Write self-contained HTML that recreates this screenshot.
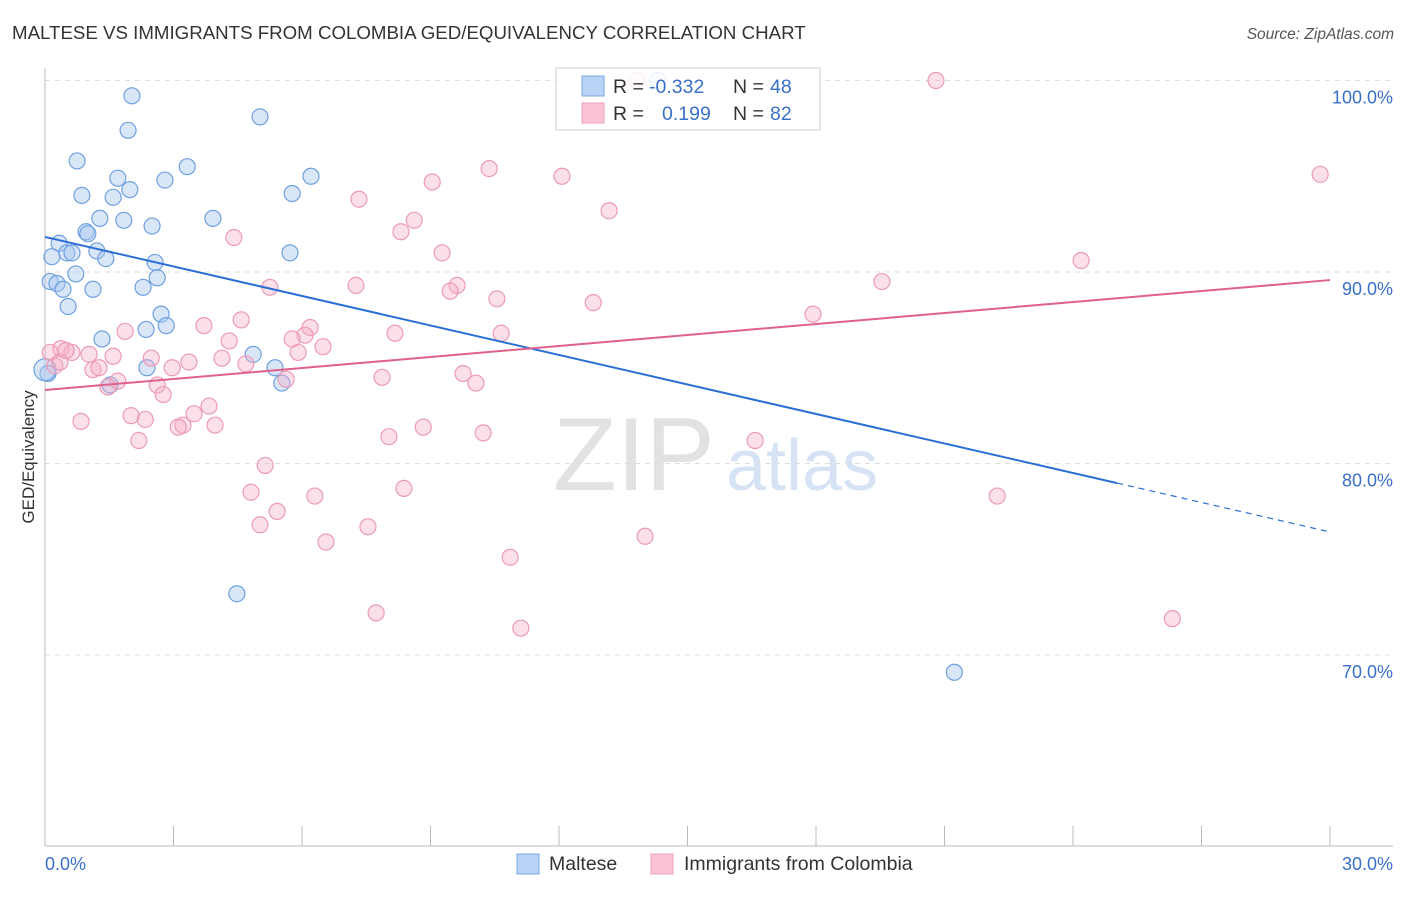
<!DOCTYPE html>
<html><head><meta charset="utf-8"><style>
body{margin:0;background:#fff;font-family:"Liberation Sans",sans-serif;}
svg text{font-family:"Liberation Sans",sans-serif;}
</style></head><body>
<svg id="chart" width="1406" height="892" viewBox="0 0 1406 892" xmlns="http://www.w3.org/2000/svg">
<text x="12" y="39" font-size="18.7" fill="#333">MALTESE VS IMMIGRANTS FROM COLOMBIA GED/EQUIVALENCY CORRELATION CHART</text>
<text x="1394" y="39" font-size="15.5" fill="#555" text-anchor="end" font-style="italic">Source: ZipAtlas.com</text>
<g>
<text x="634" y="490" font-size="104" fill="#e2e2e2" font-family="Liberation Serif" text-anchor="middle">ZIP</text>
<text x="802" y="490" font-size="72" fill="#d6e3f5" text-anchor="middle">atlas</text>
</g>
<g id="grid"></g>
<g id="axes"></g>
<g id="points"></g>
<g id="lines"></g>
<text transform="translate(34,457) rotate(-90)" font-size="17" fill="#333" text-anchor="middle">GED/Equivalency</text>
<g>
<rect x="556" y="68" width="264" height="62" fill="rgba(255,255,255,0.85)" stroke="#ccc"/>
<rect x="582" y="76" width="22" height="20" fill="#b8d3f5" stroke="#7aa8e6"/>
<rect x="582" y="103" width="22" height="20" fill="#fbc4d6" stroke="#eea0bb"/>
<text x="613" y="93" font-size="19.5" fill="#333">R =</text>
<text x="649" y="93" font-size="19.5" fill="#3a70c8">-0.332</text>
<text x="733" y="93" font-size="19.5" fill="#333">N =</text>
<text x="770" y="93" font-size="19.5" fill="#3a70c8">48</text>
<text x="613" y="120" font-size="19.5" fill="#333">R =</text>
<text x="662" y="120" font-size="19.5" fill="#3a70c8">0.199</text>
<text x="733" y="120" font-size="19.5" fill="#333">N =</text>
<text x="770" y="120" font-size="19.5" fill="#3a70c8">82</text>
</g>
<g>
<rect x="517" y="854" width="22" height="20" fill="#b8d3f5" stroke="#7aa8e6"/>
<text x="549" y="870" font-size="19.5" fill="#333">Maltese</text>
<rect x="651" y="854" width="22" height="20" fill="#fbc4d6" stroke="#eea0bb"/>
<text x="684" y="870" font-size="19.5" fill="#333">Immigrants from Colombia</text>
</g>
</svg>
<script>
const xTicks=[0,3,6,9,12,15,18,21,24,27,30];
const yTicks=[70,80,90,100];
const yTickLabels=["70.0%","80.0%","90.0%","100.0%"];
const xEndLabels=["0.0%","30.0%"];
const blueX=[2.03,5.02,1.94,0.75,3.32,1.70,2.80,1.98,0.86,1.59,5.77,6.21,1.28,1.84,3.92,2.50,0.96,1.00,0.33,0.51,0.63,1.21,5.72,0.16,1.42,2.57,0.72,2.62,0.12,0.28,0.42,1.12,2.29,0.54,2.71,2.83,2.36,1.33,4.86,2.38,5.37,1.52,5.53,0.07,4.48,21.23,14.31,0.0];
const blueY=[99.2,98.1,97.4,95.8,95.5,94.9,94.8,94.3,94.0,93.9,94.1,95.0,92.8,92.7,92.8,92.4,92.1,92.0,91.5,91.0,91.0,91.1,91.0,90.8,90.7,90.5,89.9,89.7,89.5,89.4,89.1,89.1,89.2,88.2,87.8,87.2,87.0,86.5,85.7,85.0,85.0,84.1,84.2,84.7,73.2,69.1,100.0,84.9];
const pinkX=[20.80,13.82,29.77,10.37,12.07,9.04,7.33,13.17,8.62,8.31,4.41,9.27,24.19,19.54,7.26,5.25,9.62,9.46,10.55,12.80,17.93,4.58,3.71,6.19,1.87,6.07,10.65,8.17,5.77,4.30,6.49,5.91,0.37,0.12,0.63,1.03,1.59,2.48,4.13,3.36,4.69,2.97,1.12,9.76,7.87,5.63,1.70,10.06,1.47,2.62,2.76,3.83,3.48,2.01,2.34,0.84,3.97,3.22,3.11,10.23,8.83,8.03,16.58,2.19,5.14,4.81,8.38,6.30,22.23,5.42,5.02,7.54,6.56,14.01,10.86,7.73,26.32,11.11,0.23,1.26,0.35,0.49];
const pinkY=[100.0,100.0,95.1,95.4,95.0,94.7,93.8,93.2,92.7,92.1,91.8,91.0,90.6,89.5,89.3,89.2,89.3,89.0,88.6,88.4,87.8,87.5,87.2,87.1,86.9,86.7,86.8,86.8,86.5,86.4,86.1,85.8,86.0,85.8,85.8,85.7,85.6,85.5,85.5,85.3,85.2,85.0,84.9,84.7,84.5,84.4,84.3,84.2,84.0,84.1,83.6,83.0,82.6,82.5,82.3,82.2,82.0,82.0,81.9,81.6,81.9,81.4,81.2,81.2,79.9,78.5,78.7,78.3,78.3,77.5,76.8,76.7,75.9,76.2,75.1,72.2,71.9,71.4,85.1,85.0,85.3,85.9];
const blueTrend=[91.83,-0.5135];
const blueSolidEnd=25.03;
const pinkTrend=[83.84,0.1913];

const NS="http://www.w3.org/2000/svg";
const X=v=>45+v/30*1285;
const Y=v=>846.5-(v-60)/40*766;
function mk(tag,attrs,parent){const e=document.createElementNS(NS,tag);for(const k in attrs)e.setAttribute(k,attrs[k]);document.getElementById(parent).appendChild(e);return e;}
yTicks.forEach((t,i)=>{
 const g=mk('line',{x1:45,x2:1393,y1:Y(t),y2:Y(t),stroke:'#ddd','stroke-dasharray':'5,5'},'grid');
 
 
 const l=mk('text',{x:1393,y:Y(t)+23,'font-size':18,fill:'#3a70c8','text-anchor':'end'},'axes');
 l.textContent=yTickLabels[i];
 
 
});
const ya=mk('line',{x1:45,x2:45,y1:68,y2:846,stroke:'#bbb'},'axes');


const xa=mk('line',{x1:45,x2:1393,y1:846,y2:846,stroke:'#bbb'},'axes');


xTicks.forEach(t=>{
 const e=mk('line',{x1:X(t),x2:X(t),y1:826,y2:846,stroke:'#bbb'},'axes');
 
 
});
const xl0=mk('text',{x:45,y:870,'font-size':18,fill:'#3a70c8'},'axes');xl0.textContent=xEndLabels[0];


const xl1=mk('text',{x:1393,y:870,'font-size':18,fill:'#3a70c8','text-anchor':'end'},'axes');xl1.textContent=xEndLabels[1];


blueX.forEach((v,i)=>{
 const c=mk('circle',{cx:X(v),cy:Y(blueY[i]),r:i===blueX.length-1?11:8,fill:'rgba(168,200,240,0.45)',stroke:'#6fa0e0','stroke-width':1.2},'points');
 
 
});
pinkX.forEach((v,i)=>{
 const c=mk('circle',{cx:X(v),cy:Y(pinkY[i]),r:8,fill:'rgba(244,176,200,0.4)',stroke:'#ec9ab8','stroke-width':1.2},'points');
 
 
});
const bl=mk('line',{x1:X(0),y1:Y(blueTrend[0]),x2:X(blueSolidEnd),y2:Y(blueTrend[0]+blueTrend[1]*blueSolidEnd),stroke:'#2a6fd6','stroke-width':2},'lines');


const bd=mk('line',{x1:X(blueSolidEnd),y1:Y(blueTrend[0]+blueTrend[1]*blueSolidEnd),x2:X(30),y2:Y(blueTrend[0]+blueTrend[1]*30),stroke:'#2a6fd6','stroke-width':1.2,'stroke-dasharray':'6,5'},'lines');


const pl=mk('line',{x1:X(0),y1:Y(pinkTrend[0]),x2:X(30),y2:Y(pinkTrend[0]+pinkTrend[1]*30),stroke:'#e0608e','stroke-width':2},'lines');


</script>
</body></html>
